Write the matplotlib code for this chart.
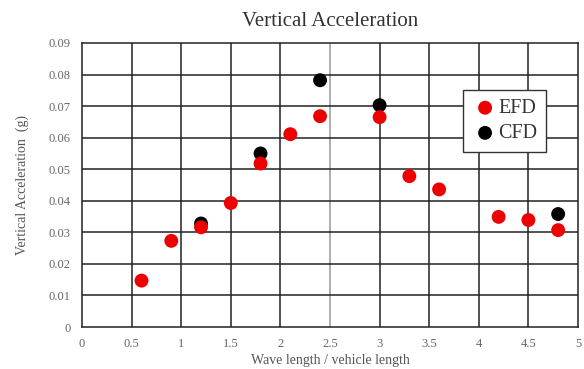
import matplotlib
matplotlib.use("Agg")
import matplotlib.pyplot as plt

# Данные
efd_x = [0.6, 0.9, 1.2, 1.5, 1.8, 2.1, 2.4, 3.0, 3.3, 3.6, 4.2, 4.5, 4.8]
efd_y = [0.0147, 0.0273, 0.0316, 0.0393, 0.0518, 0.0611, 0.0668, 0.0665,
         0.0478, 0.0436, 0.0349, 0.0339, 0.0307]
cfd_x = [1.2, 1.8, 2.4, 3.0, 4.8]
cfd_y = [0.0328, 0.0550, 0.0782, 0.0703, 0.0358]

x_ticks = [0, 0.5, 1, 1.5, 2, 2.5, 3, 3.5, 4, 4.5, 5]
x_labels = ['0', '0.5', '1', '1.5', '2', '2.5', '3', '3.5', '4', '4.5', '5']
y_ticks = [0, 0.01, 0.02, 0.03, 0.04, 0.05, 0.06, 0.07, 0.08, 0.09]
y_labels = ['0', '0.01', '0.02', '0.03', '0.04', '0.05', '0.06', '0.07', '0.08', '0.09']

plt.rcParams['font.family'] = ['Liberation Serif', 'DejaVu Serif']

fig = plt.figure(figsize=(5.84, 3.69), dpi=100)
ax = fig.add_axes([0.1404, 0.1138, 0.8493, 0.7697])

ax.set_xlim(0, 5)
ax.set_ylim(0, 0.09)
ax.set_xticks(x_ticks)
ax.set_xticklabels(x_labels)
ax.set_yticks(y_ticks)
ax.set_yticklabels(y_labels)
ax.tick_params(length=0, labelsize=9, labelcolor='#666666', pad=8)

# Сетка: линия 2.5 светлее остальных
for xv in x_ticks[1:-1]:
    c = '#999999' if xv == 2.5 else '#222222'
    ax.axvline(xv, color=c, lw=1.1, zorder=1)
for yv in y_ticks[1:-1]:
    ax.axhline(yv, color='#222222', lw=1.1, zorder=1)
for s in ax.spines.values():
    s.set_color('#222222')
    s.set_linewidth(1.1)

ax.scatter(efd_x, efd_y, s=100, c='#ee0000', edgecolors='none', zorder=3, label='EFD')
ax.scatter(cfd_x, cfd_y, s=100, c='black', edgecolors='none', zorder=2, label='CFD')

ax.set_title('Vertical Acceleration', fontsize=15, color='#333333', pad=12)
ax.set_xlabel('Wave length / vehicle length', fontsize=10, color='#555555', labelpad=3)
ax.set_ylabel('Vertical Acceleration  (g)', fontsize=10, color='#555555', labelpad=14)

leg = ax.legend(loc='upper left', bbox_to_anchor=(0.768, 0.835), borderaxespad=0,
                fontsize=14.5, frameon=True, fancybox=False, handletextpad=0.0,
                borderpad=0.45, handlelength=1.3, labelspacing=0.3, framealpha=1)
leg.get_frame().set_edgecolor('#333333')
leg.get_frame().set_linewidth(1.0)
for t in leg.get_texts():
    t.set_color('#333333')

fig.savefig('out.png', dpi=100)
